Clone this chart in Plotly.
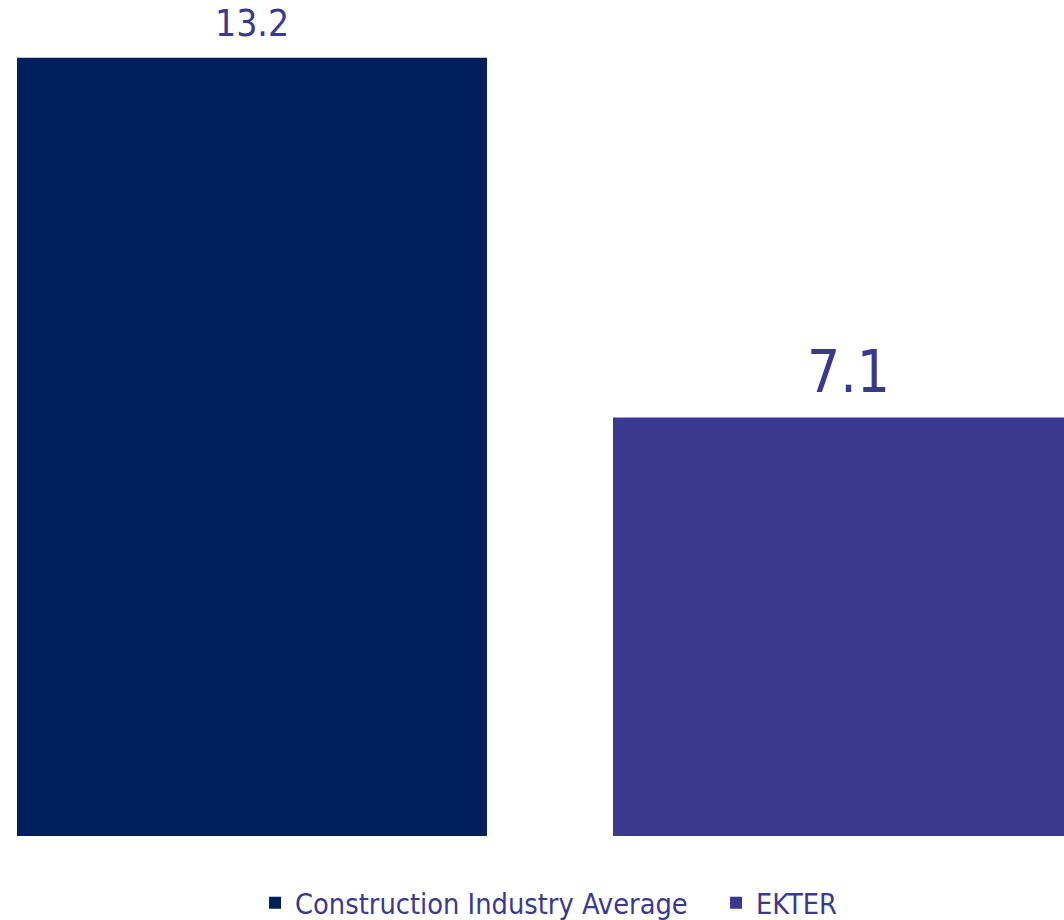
import plotly.graph_objects as go

series = ["Construction Industry Average", "EKTER"]
values = [13.2, 7.1]
colors = ["#001F5C", "#3A3990"]
label_sizes = [37, 58]
label_shifts = [11, 9]
text_color = "#3A3990"
FONT = "DejaVu Sans Condensed, DejaVu Sans, sans-serif"

fig = go.Figure()
for i, (name, v) in enumerate(zip(series, values)):
    fig.add_trace(go.Bar(
        x=[i], y=[v], name=name, width=0.7886,
        marker=dict(color=colors[i], line=dict(width=0)),
        hoverinfo="skip",
    ))
    fig.add_annotation(
        x=i, y=v, text=f"{v:.1f}", showarrow=False,
        xref="x", yref="y", yanchor="bottom", yshift=label_shifts[i],
        font=dict(family=FONT, size=label_sizes[i], color=text_color),
    )

fig.update_layout(
    width=1064, height=920,
    margin=dict(l=0, r=0, t=0, b=84),
    paper_bgcolor="white", plot_bgcolor="white",
    barmode="overlay",
    showlegend=True,
    legend=dict(
        orientation="h", xref="container", yref="container",
        x=0.2397, xanchor="left", y=0.0185, yanchor="middle",
        entrywidth=416, entrywidthmode="pixels",
        font=dict(family=FONT, size=28.7, color=text_color),
        itemclick=False, itemdoubleclick=False,
    ),
    xaxis=dict(range=[-0.4228, 1.3624], showgrid=False, zeroline=False,
               showticklabels=False, showline=False, fixedrange=True),
    yaxis=dict(range=[0, 14.18], showgrid=False, zeroline=False,
               showticklabels=False, showline=False, fixedrange=True),
)

fig.write_html(
    "out.html",
    config={"displayModeBar": False},
    post_script="document.body.style.margin='0';document.body.style.overflow='hidden';",
)
